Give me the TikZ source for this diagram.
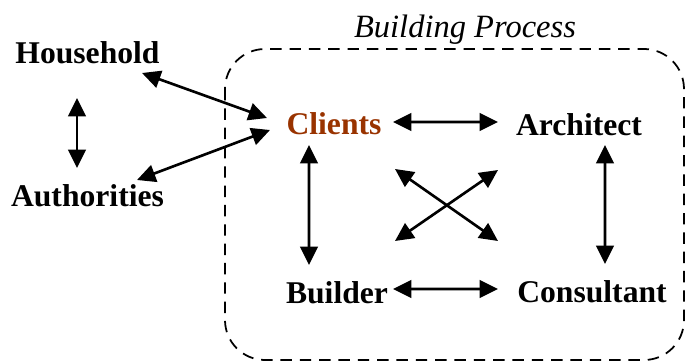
\documentclass[tikz,border=0pt]{standalone}
\usepackage{fontspec}
\setmainfont{Liberation Serif}[BoldFont=Liberation Serif Bold, ItalicFont=Liberation Serif Italic]
\usepackage{xcolor}
\usetikzlibrary{arrows.meta,calc}
\definecolor{clientbrown}{RGB}{153,51,0}

\begin{document}
\begin{tikzpicture}[
        party/.style={font=\fontsize{18}{20}\selectfont\bfseries, inner sep=0pt},
        link/.style={{Triangle[length=10.5pt,width=10pt]}-{Triangle[length=10.5pt,width=10pt]}, line width=1.5pt}]
        \useasboundingbox (0,0) rectangle (13.7,7.24);
        \clip (0,0) rectangle (13.7,7.24);

        % Outside parties
        \node[party] (household) at (1.75,6.19) {Household};
        \node[party] (authorities) at (1.75,3.32) {Authorities};

        % Building process frame
        \draw[dash pattern=on 6.5pt off 4.5pt, line width=1pt, rounded corners=0.8cm] (4.5,6.26) rectangle (13.68,0.04);
        \node[font=\fontsize{18.5}{20}\selectfont\itshape, anchor=base] (process) at (9.3,6.48) {Building Process};

        % Parties in the process
        \node[party, text=clientbrown] (clients) at (6.68,4.76) {Clients};
        \node[party] (architect) at (11.58,4.74) {Architect};
        \node[party] (builder) at (6.74,1.38) {Builder};
        \node[party] (consultant) at (11.84,1.40) {Consultant};

        % Links
        \draw[link] ($(household)+(-0.21,-0.91)$) -- ($(authorities)+(-0.21,0.56)$);
        \draw[link] ($(household)+(1.09,-0.41)$) -- ($(clients)+(-1.34,0.12)$);
        \draw[link] ($(authorities)+(0.99,0.32)$) -- ($(clients)+(-1.28,-0.12)$);
        \draw[link] ($(clients)+(1.18,0.04)$) -- ($(architect)+(-1.62,0.06)$);
        \draw[link] ($(clients)+(-0.5,-0.42)$) -- ($(builder)+(-0.56,0.56)$);
        \draw[link] ($(architect)+(0.52,-0.4)$) -- ($(consultant)+(0.26,0.56)$);
        \draw[link] ($(builder)+(1.12,0.08)$) -- ($(consultant)+(-1.88,0.06)$);
        \draw[link] ($(clients)+(1.22,-0.9)$) -- ($(consultant)+(-1.88,1.02)$);
        \draw[link] ($(architect)+(-1.62,-0.9)$) -- ($(builder)+(1.16,1.04)$);
\end{tikzpicture}
\end{document}
